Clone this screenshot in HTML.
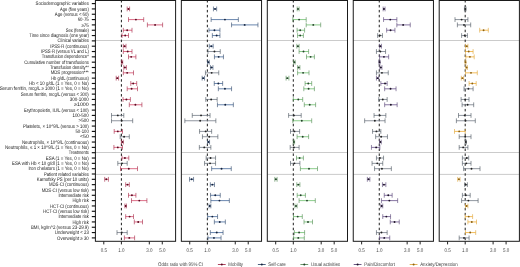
<!DOCTYPE html><html><head><meta charset="utf-8"><style>html,body{margin:0;padding:0;background:#fff;overflow:hidden}svg{display:block;will-change:transform}</style></head><body><svg width="520" height="267" viewBox="0 0 520 267">
<rect width="520" height="267" fill="#fff"/>
<defs><filter id="bl" x="-20%" y="-50%" width="140%" height="200%"><feGaussianBlur stdDeviation="0.28"/></filter></defs>
<g font-family="Liberation Sans, sans-serif" font-size="4.28" fill="#222" text-anchor="end" text-rendering="geometricPrecision" filter="url(#bl)">
<text transform="translate(0 5.20) scale(1 1.2)" x="88.8" y="0" textLength="53.2" lengthAdjust="spacingAndGlyphs">Sociodemographic variables</text>
<text transform="translate(0 10.53) scale(1 1.2)" x="88.8" y="0" textLength="28.8" lengthAdjust="spacingAndGlyphs">Age (five years)</text>
<text transform="translate(0 15.85) scale(1 1.2)" x="88.8" y="0" textLength="34.0" lengthAdjust="spacingAndGlyphs">Age (versus &lt; 60)</text>
<text transform="translate(0 21.18) scale(1 1.2)" x="88.8" y="0" textLength="11.1" lengthAdjust="spacingAndGlyphs">60-75</text>
<text transform="translate(0 26.50) scale(1 1.2)" x="88.8" y="0" textLength="7.4" lengthAdjust="spacingAndGlyphs">≥75</text>
<text transform="translate(0 31.83) scale(1 1.2)" x="88.8" y="0" textLength="23.0" lengthAdjust="spacingAndGlyphs">Sex (female)</text>
<text transform="translate(0 37.15) scale(1 1.2)" x="88.8" y="0" textLength="59.5" lengthAdjust="spacingAndGlyphs">Time since diagnosis (one year)</text>
<text transform="translate(0 42.48) scale(1 1.2)" x="88.8" y="0" textLength="31.2" lengthAdjust="spacingAndGlyphs">Clinical variables</text>
<text transform="translate(0 47.80) scale(1 1.2)" x="88.8" y="0" textLength="38.5" lengthAdjust="spacingAndGlyphs">IPSS-R (continuous)</text>
<text transform="translate(0 53.13) scale(1 1.2)" x="88.8" y="0" textLength="47.8" lengthAdjust="spacingAndGlyphs">IPSS-R (versus VL and L)</text>
<text transform="translate(0 58.45) scale(1 1.2)" x="88.8" y="0" textLength="47.1" lengthAdjust="spacingAndGlyphs">Transfusion dependence*</text>
<text transform="translate(0 63.78) scale(1 1.2)" x="88.8" y="0" textLength="64.5" lengthAdjust="spacingAndGlyphs">Cumulative number of transfusions</text>
<text transform="translate(0 69.10) scale(1 1.2)" x="88.8" y="0" textLength="38.8" lengthAdjust="spacingAndGlyphs">Transfusion density**</text>
<text transform="translate(0 74.42) scale(1 1.2)" x="88.8" y="0" textLength="38.1" lengthAdjust="spacingAndGlyphs">MDS progression***</text>
<text transform="translate(0 79.75) scale(1 1.2)" x="88.8" y="0" textLength="37.6" lengthAdjust="spacingAndGlyphs">Hb g/dL (continuous)</text>
<text transform="translate(0 85.07) scale(1 1.2)" x="88.8" y="0" textLength="59.7" lengthAdjust="spacingAndGlyphs">Hb &lt; 10 g/dL (1 = Yes, 0 = No)</text>
<text transform="translate(0 90.40) scale(1 1.2)" x="88.8" y="0" textLength="89.1" lengthAdjust="spacingAndGlyphs">Serum ferritin, mcg/L ≥ 1000 (1 = Yes, 0 = No)</text>
<text transform="translate(0 95.72) scale(1 1.2)" x="88.8" y="0" textLength="68.1" lengthAdjust="spacingAndGlyphs">Serum ferritin, mcg/L (versus &lt; 300)</text>
<text transform="translate(0 101.05) scale(1 1.2)" x="88.8" y="0" textLength="19.1" lengthAdjust="spacingAndGlyphs">300-1000</text>
<text transform="translate(0 106.37) scale(1 1.2)" x="88.8" y="0" textLength="14.8" lengthAdjust="spacingAndGlyphs">≥1000</text>
<text transform="translate(0 111.70) scale(1 1.2)" x="88.8" y="0" textLength="64.9" lengthAdjust="spacingAndGlyphs">Erythropoietin, IU/L (versus &lt; 100)</text>
<text transform="translate(0 117.02) scale(1 1.2)" x="88.8" y="0" textLength="16.4" lengthAdjust="spacingAndGlyphs">100-500</text>
<text transform="translate(0 122.35) scale(1 1.2)" x="88.8" y="0" textLength="10.3" lengthAdjust="spacingAndGlyphs">&gt;500</text>
<text transform="translate(0 127.67) scale(1 1.2)" x="88.8" y="0" textLength="65.8" lengthAdjust="spacingAndGlyphs">Platelets, × 10^9/L (versus &gt; 100)</text>
<text transform="translate(0 133.00) scale(1 1.2)" x="88.8" y="0" textLength="13.3" lengthAdjust="spacingAndGlyphs">50-100</text>
<text transform="translate(0 138.32) scale(1 1.2)" x="88.8" y="0" textLength="8.8" lengthAdjust="spacingAndGlyphs">&lt;50</text>
<text transform="translate(0 143.65) scale(1 1.2)" x="88.8" y="0" textLength="66.9" lengthAdjust="spacingAndGlyphs">Neutrophils, × 10^9/L (continuous)</text>
<text transform="translate(0 148.97) scale(1 1.2)" x="88.8" y="0" textLength="83.8" lengthAdjust="spacingAndGlyphs">Neutrophils, ≤ 1 × 10^9/L (1 = Yes, 0 = No)</text>
<text transform="translate(0 154.30) scale(1 1.2)" x="88.8" y="0" textLength="20.0" lengthAdjust="spacingAndGlyphs">Treatments</text>
<text transform="translate(0 159.62) scale(1 1.2)" x="88.8" y="0" textLength="43.0" lengthAdjust="spacingAndGlyphs">ESA (1 = Yes, 0 = No)</text>
<text transform="translate(0 164.95) scale(1 1.2)" x="88.8" y="0" textLength="76.8" lengthAdjust="spacingAndGlyphs">ESA with Hb &lt; 10 g/dl (1 = Yes, 0 = No)</text>
<text transform="translate(0 170.28) scale(1 1.2)" x="88.8" y="0" textLength="60.4" lengthAdjust="spacingAndGlyphs">Iron chelators (1 = Yes, 0 = No)</text>
<text transform="translate(0 175.60) scale(1 1.2)" x="88.8" y="0" textLength="44.8" lengthAdjust="spacingAndGlyphs">Patient related variables</text>
<text transform="translate(0 180.92) scale(1 1.2)" x="88.8" y="0" textLength="52.0" lengthAdjust="spacingAndGlyphs">Karnofsky PS (per 10 units)</text>
<text transform="translate(0 186.25) scale(1 1.2)" x="88.8" y="0" textLength="39.9" lengthAdjust="spacingAndGlyphs">MDS-CI (continuous)</text>
<text transform="translate(0 191.57) scale(1 1.2)" x="88.8" y="0" textLength="47.1" lengthAdjust="spacingAndGlyphs">MDS-CI (versus low risk)</text>
<text transform="translate(0 196.90) scale(1 1.2)" x="88.8" y="0" textLength="30.4" lengthAdjust="spacingAndGlyphs">Intermediate risk</text>
<text transform="translate(0 202.22) scale(1 1.2)" x="88.8" y="0" textLength="16.4" lengthAdjust="spacingAndGlyphs">High risk</text>
<text transform="translate(0 207.55) scale(1 1.2)" x="88.8" y="0" textLength="38.8" lengthAdjust="spacingAndGlyphs">HCT-CI (continuous)</text>
<text transform="translate(0 212.88) scale(1 1.2)" x="88.8" y="0" textLength="45.7" lengthAdjust="spacingAndGlyphs">HCT-CI (versus low risk)</text>
<text transform="translate(0 218.20) scale(1 1.2)" x="88.8" y="0" textLength="30.4" lengthAdjust="spacingAndGlyphs">Intermediate risk</text>
<text transform="translate(0 223.53) scale(1 1.2)" x="88.8" y="0" textLength="16.4" lengthAdjust="spacingAndGlyphs">High risk</text>
<text transform="translate(0 228.85) scale(1 1.2)" x="88.8" y="0" textLength="57.9" lengthAdjust="spacingAndGlyphs">BMI, kg/m^2 (versus 23-29.9)</text>
<text transform="translate(0 234.17) scale(1 1.2)" x="88.8" y="0" textLength="34.0" lengthAdjust="spacingAndGlyphs">Underweight &lt; 23</text>
<text transform="translate(0 239.50) scale(1 1.2)" x="88.8" y="0" textLength="31.7" lengthAdjust="spacingAndGlyphs">Overweight ≥ 30</text>
</g>
<line x1="95.40" x2="175.60" y1="40.50" y2="40.50" stroke="#c2c2c2" stroke-width="0.85"/>
<line x1="95.40" x2="175.60" y1="152.50" y2="152.50" stroke="#c2c2c2" stroke-width="0.85"/>
<line x1="95.40" x2="175.60" y1="174.40" y2="174.40" stroke="#c2c2c2" stroke-width="0.85"/>
<line x1="181.35" x2="261.55" y1="40.50" y2="40.50" stroke="#c2c2c2" stroke-width="0.85"/>
<line x1="181.35" x2="261.55" y1="152.50" y2="152.50" stroke="#c2c2c2" stroke-width="0.85"/>
<line x1="181.35" x2="261.55" y1="174.40" y2="174.40" stroke="#c2c2c2" stroke-width="0.85"/>
<line x1="267.30" x2="347.50" y1="40.50" y2="40.50" stroke="#c2c2c2" stroke-width="0.85"/>
<line x1="267.30" x2="347.50" y1="152.50" y2="152.50" stroke="#c2c2c2" stroke-width="0.85"/>
<line x1="267.30" x2="347.50" y1="174.40" y2="174.40" stroke="#c2c2c2" stroke-width="0.85"/>
<line x1="353.25" x2="433.45" y1="40.50" y2="40.50" stroke="#c2c2c2" stroke-width="0.85"/>
<line x1="353.25" x2="433.45" y1="152.50" y2="152.50" stroke="#c2c2c2" stroke-width="0.85"/>
<line x1="353.25" x2="433.45" y1="174.40" y2="174.40" stroke="#c2c2c2" stroke-width="0.85"/>
<line x1="439.20" x2="519.40" y1="40.50" y2="40.50" stroke="#c2c2c2" stroke-width="0.85"/>
<line x1="439.20" x2="519.40" y1="152.50" y2="152.50" stroke="#c2c2c2" stroke-width="0.85"/>
<line x1="439.20" x2="519.40" y1="174.40" y2="174.40" stroke="#c2c2c2" stroke-width="0.85"/>
<line x1="121.40" x2="121.40" y1="0.0" y2="241.3" stroke="#111" stroke-width="0.95" stroke-dasharray="2.5,2.45"/>
<rect x="95.40" y="0.5" width="80.2" height="240.80" fill="none" stroke="#1a1a1a" stroke-width="1.0"/>
<line x1="103.79" x2="103.79" y1="241.3" y2="244.4" stroke="#222" stroke-width="1.0"/>
<text transform="translate(103.79 251.90) scale(1 1.2)" x="0" y="0" font-family="Liberation Sans, sans-serif" font-size="4.5" fill="#444" text-anchor="middle" text-rendering="geometricPrecision" filter="url(#bl)" >0.5</text>
<line x1="121.40" x2="121.40" y1="241.3" y2="244.4" stroke="#222" stroke-width="1.0"/>
<text transform="translate(121.40 251.90) scale(1 1.2)" x="0" y="0" font-family="Liberation Sans, sans-serif" font-size="4.5" fill="#444" text-anchor="middle" text-rendering="geometricPrecision" filter="url(#bl)" >1.0</text>
<line x1="149.30" x2="149.30" y1="241.3" y2="244.4" stroke="#222" stroke-width="1.0"/>
<text transform="translate(149.30 251.90) scale(1 1.2)" x="0" y="0" font-family="Liberation Sans, sans-serif" font-size="4.5" fill="#444" text-anchor="middle" text-rendering="geometricPrecision" filter="url(#bl)" >3.0</text>
<line x1="162.28" x2="162.28" y1="241.3" y2="244.4" stroke="#222" stroke-width="1.0"/>
<text transform="translate(162.28 251.90) scale(1 1.2)" x="0" y="0" font-family="Liberation Sans, sans-serif" font-size="4.5" fill="#444" text-anchor="middle" text-rendering="geometricPrecision" filter="url(#bl)" >5.0</text>
<line x1="207.35" x2="207.35" y1="0.0" y2="241.3" stroke="#111" stroke-width="0.95" stroke-dasharray="2.5,2.45"/>
<rect x="181.35" y="0.5" width="80.2" height="240.80" fill="none" stroke="#1a1a1a" stroke-width="1.0"/>
<line x1="189.74" x2="189.74" y1="241.3" y2="244.4" stroke="#222" stroke-width="1.0"/>
<text transform="translate(189.74 251.90) scale(1 1.2)" x="0" y="0" font-family="Liberation Sans, sans-serif" font-size="4.5" fill="#444" text-anchor="middle" text-rendering="geometricPrecision" filter="url(#bl)" >0.5</text>
<line x1="207.35" x2="207.35" y1="241.3" y2="244.4" stroke="#222" stroke-width="1.0"/>
<text transform="translate(207.35 251.90) scale(1 1.2)" x="0" y="0" font-family="Liberation Sans, sans-serif" font-size="4.5" fill="#444" text-anchor="middle" text-rendering="geometricPrecision" filter="url(#bl)" >1.0</text>
<line x1="235.25" x2="235.25" y1="241.3" y2="244.4" stroke="#222" stroke-width="1.0"/>
<text transform="translate(235.25 251.90) scale(1 1.2)" x="0" y="0" font-family="Liberation Sans, sans-serif" font-size="4.5" fill="#444" text-anchor="middle" text-rendering="geometricPrecision" filter="url(#bl)" >3.0</text>
<line x1="248.23" x2="248.23" y1="241.3" y2="244.4" stroke="#222" stroke-width="1.0"/>
<text transform="translate(248.23 251.90) scale(1 1.2)" x="0" y="0" font-family="Liberation Sans, sans-serif" font-size="4.5" fill="#444" text-anchor="middle" text-rendering="geometricPrecision" filter="url(#bl)" >5.0</text>
<line x1="293.30" x2="293.30" y1="0.0" y2="241.3" stroke="#111" stroke-width="0.95" stroke-dasharray="2.5,2.45"/>
<rect x="267.30" y="0.5" width="80.2" height="240.80" fill="none" stroke="#1a1a1a" stroke-width="1.0"/>
<line x1="275.69" x2="275.69" y1="241.3" y2="244.4" stroke="#222" stroke-width="1.0"/>
<text transform="translate(275.69 251.90) scale(1 1.2)" x="0" y="0" font-family="Liberation Sans, sans-serif" font-size="4.5" fill="#444" text-anchor="middle" text-rendering="geometricPrecision" filter="url(#bl)" >0.5</text>
<line x1="293.30" x2="293.30" y1="241.3" y2="244.4" stroke="#222" stroke-width="1.0"/>
<text transform="translate(293.30 251.90) scale(1 1.2)" x="0" y="0" font-family="Liberation Sans, sans-serif" font-size="4.5" fill="#444" text-anchor="middle" text-rendering="geometricPrecision" filter="url(#bl)" >1.0</text>
<line x1="321.20" x2="321.20" y1="241.3" y2="244.4" stroke="#222" stroke-width="1.0"/>
<text transform="translate(321.20 251.90) scale(1 1.2)" x="0" y="0" font-family="Liberation Sans, sans-serif" font-size="4.5" fill="#444" text-anchor="middle" text-rendering="geometricPrecision" filter="url(#bl)" >3.0</text>
<line x1="334.18" x2="334.18" y1="241.3" y2="244.4" stroke="#222" stroke-width="1.0"/>
<text transform="translate(334.18 251.90) scale(1 1.2)" x="0" y="0" font-family="Liberation Sans, sans-serif" font-size="4.5" fill="#444" text-anchor="middle" text-rendering="geometricPrecision" filter="url(#bl)" >5.0</text>
<line x1="379.25" x2="379.25" y1="0.0" y2="241.3" stroke="#111" stroke-width="0.95" stroke-dasharray="2.5,2.45"/>
<rect x="353.25" y="0.5" width="80.2" height="240.80" fill="none" stroke="#1a1a1a" stroke-width="1.0"/>
<line x1="361.64" x2="361.64" y1="241.3" y2="244.4" stroke="#222" stroke-width="1.0"/>
<text transform="translate(361.64 251.90) scale(1 1.2)" x="0" y="0" font-family="Liberation Sans, sans-serif" font-size="4.5" fill="#444" text-anchor="middle" text-rendering="geometricPrecision" filter="url(#bl)" >0.5</text>
<line x1="379.25" x2="379.25" y1="241.3" y2="244.4" stroke="#222" stroke-width="1.0"/>
<text transform="translate(379.25 251.90) scale(1 1.2)" x="0" y="0" font-family="Liberation Sans, sans-serif" font-size="4.5" fill="#444" text-anchor="middle" text-rendering="geometricPrecision" filter="url(#bl)" >1.0</text>
<line x1="407.15" x2="407.15" y1="241.3" y2="244.4" stroke="#222" stroke-width="1.0"/>
<text transform="translate(407.15 251.90) scale(1 1.2)" x="0" y="0" font-family="Liberation Sans, sans-serif" font-size="4.5" fill="#444" text-anchor="middle" text-rendering="geometricPrecision" filter="url(#bl)" >3.0</text>
<line x1="420.13" x2="420.13" y1="241.3" y2="244.4" stroke="#222" stroke-width="1.0"/>
<text transform="translate(420.13 251.90) scale(1 1.2)" x="0" y="0" font-family="Liberation Sans, sans-serif" font-size="4.5" fill="#444" text-anchor="middle" text-rendering="geometricPrecision" filter="url(#bl)" >5.0</text>
<line x1="465.20" x2="465.20" y1="0.0" y2="241.3" stroke="#111" stroke-width="0.95" stroke-dasharray="2.5,2.45"/>
<rect x="439.20" y="0.5" width="80.2" height="240.80" fill="none" stroke="#1a1a1a" stroke-width="1.0"/>
<line x1="447.59" x2="447.59" y1="241.3" y2="244.4" stroke="#222" stroke-width="1.0"/>
<text transform="translate(447.59 251.90) scale(1 1.2)" x="0" y="0" font-family="Liberation Sans, sans-serif" font-size="4.5" fill="#444" text-anchor="middle" text-rendering="geometricPrecision" filter="url(#bl)" >0.5</text>
<line x1="465.20" x2="465.20" y1="241.3" y2="244.4" stroke="#222" stroke-width="1.0"/>
<text transform="translate(465.20 251.90) scale(1 1.2)" x="0" y="0" font-family="Liberation Sans, sans-serif" font-size="4.5" fill="#444" text-anchor="middle" text-rendering="geometricPrecision" filter="url(#bl)" >1.0</text>
<line x1="493.10" x2="493.10" y1="241.3" y2="244.4" stroke="#222" stroke-width="1.0"/>
<text transform="translate(493.10 251.90) scale(1 1.2)" x="0" y="0" font-family="Liberation Sans, sans-serif" font-size="4.5" fill="#444" text-anchor="middle" text-rendering="geometricPrecision" filter="url(#bl)" >3.0</text>
<line x1="506.08" x2="506.08" y1="241.3" y2="244.4" stroke="#222" stroke-width="1.0"/>
<text transform="translate(506.08 251.90) scale(1 1.2)" x="0" y="0" font-family="Liberation Sans, sans-serif" font-size="4.5" fill="#444" text-anchor="middle" text-rendering="geometricPrecision" filter="url(#bl)" >5.0</text>
<line x1="91.8" x2="95.4" y1="3.60" y2="3.60" stroke="#111" stroke-width="1.15"/>
<line x1="91.8" x2="95.4" y1="8.93" y2="8.93" stroke="#111" stroke-width="1.15"/>
<line x1="91.8" x2="95.4" y1="14.25" y2="14.25" stroke="#111" stroke-width="1.15"/>
<line x1="91.8" x2="95.4" y1="19.58" y2="19.58" stroke="#111" stroke-width="1.15"/>
<line x1="91.8" x2="95.4" y1="24.90" y2="24.90" stroke="#111" stroke-width="1.15"/>
<line x1="91.8" x2="95.4" y1="30.23" y2="30.23" stroke="#111" stroke-width="1.15"/>
<line x1="91.8" x2="95.4" y1="35.55" y2="35.55" stroke="#111" stroke-width="1.15"/>
<line x1="91.8" x2="95.4" y1="40.88" y2="40.88" stroke="#111" stroke-width="1.15"/>
<line x1="91.8" x2="95.4" y1="46.20" y2="46.20" stroke="#111" stroke-width="1.15"/>
<line x1="91.8" x2="95.4" y1="51.53" y2="51.53" stroke="#111" stroke-width="1.15"/>
<line x1="91.8" x2="95.4" y1="56.85" y2="56.85" stroke="#111" stroke-width="1.15"/>
<line x1="91.8" x2="95.4" y1="62.18" y2="62.18" stroke="#111" stroke-width="1.15"/>
<line x1="91.8" x2="95.4" y1="67.50" y2="67.50" stroke="#111" stroke-width="1.15"/>
<line x1="91.8" x2="95.4" y1="72.83" y2="72.83" stroke="#111" stroke-width="1.15"/>
<line x1="91.8" x2="95.4" y1="78.15" y2="78.15" stroke="#111" stroke-width="1.15"/>
<line x1="91.8" x2="95.4" y1="83.47" y2="83.47" stroke="#111" stroke-width="1.15"/>
<line x1="91.8" x2="95.4" y1="88.80" y2="88.80" stroke="#111" stroke-width="1.15"/>
<line x1="91.8" x2="95.4" y1="94.12" y2="94.12" stroke="#111" stroke-width="1.15"/>
<line x1="91.8" x2="95.4" y1="99.45" y2="99.45" stroke="#111" stroke-width="1.15"/>
<line x1="91.8" x2="95.4" y1="104.77" y2="104.77" stroke="#111" stroke-width="1.15"/>
<line x1="91.8" x2="95.4" y1="110.10" y2="110.10" stroke="#111" stroke-width="1.15"/>
<line x1="91.8" x2="95.4" y1="115.42" y2="115.42" stroke="#111" stroke-width="1.15"/>
<line x1="91.8" x2="95.4" y1="120.75" y2="120.75" stroke="#111" stroke-width="1.15"/>
<line x1="91.8" x2="95.4" y1="126.08" y2="126.08" stroke="#111" stroke-width="1.15"/>
<line x1="91.8" x2="95.4" y1="131.40" y2="131.40" stroke="#111" stroke-width="1.15"/>
<line x1="91.8" x2="95.4" y1="136.72" y2="136.72" stroke="#111" stroke-width="1.15"/>
<line x1="91.8" x2="95.4" y1="142.05" y2="142.05" stroke="#111" stroke-width="1.15"/>
<line x1="91.8" x2="95.4" y1="147.38" y2="147.38" stroke="#111" stroke-width="1.15"/>
<line x1="91.8" x2="95.4" y1="152.70" y2="152.70" stroke="#111" stroke-width="1.15"/>
<line x1="91.8" x2="95.4" y1="158.03" y2="158.03" stroke="#111" stroke-width="1.15"/>
<line x1="91.8" x2="95.4" y1="163.35" y2="163.35" stroke="#111" stroke-width="1.15"/>
<line x1="91.8" x2="95.4" y1="168.68" y2="168.68" stroke="#111" stroke-width="1.15"/>
<line x1="91.8" x2="95.4" y1="174.00" y2="174.00" stroke="#111" stroke-width="1.15"/>
<line x1="91.8" x2="95.4" y1="179.32" y2="179.32" stroke="#111" stroke-width="1.15"/>
<line x1="91.8" x2="95.4" y1="184.65" y2="184.65" stroke="#111" stroke-width="1.15"/>
<line x1="91.8" x2="95.4" y1="189.97" y2="189.97" stroke="#111" stroke-width="1.15"/>
<line x1="91.8" x2="95.4" y1="195.30" y2="195.30" stroke="#111" stroke-width="1.15"/>
<line x1="91.8" x2="95.4" y1="200.62" y2="200.62" stroke="#111" stroke-width="1.15"/>
<line x1="91.8" x2="95.4" y1="205.95" y2="205.95" stroke="#111" stroke-width="1.15"/>
<line x1="91.8" x2="95.4" y1="211.28" y2="211.28" stroke="#111" stroke-width="1.15"/>
<line x1="91.8" x2="95.4" y1="216.60" y2="216.60" stroke="#111" stroke-width="1.15"/>
<line x1="91.8" x2="95.4" y1="221.93" y2="221.93" stroke="#111" stroke-width="1.15"/>
<line x1="91.8" x2="95.4" y1="227.25" y2="227.25" stroke="#111" stroke-width="1.15"/>
<line x1="91.8" x2="95.4" y1="232.57" y2="232.57" stroke="#111" stroke-width="1.15"/>
<line x1="91.8" x2="95.4" y1="237.90" y2="237.90" stroke="#111" stroke-width="1.15"/>
<line x1="127.20" x2="129.60" y1="8.93" y2="8.93" stroke="#d44a6a" stroke-width="0.8"/>
<path d="M127.20 6.53V11.33M129.60 6.53V11.33" stroke="#a8304e" stroke-width="0.65" fill="none"/>
<circle cx="128.50" cy="8.93" r="0.95" fill="#5a0a20"/>
<line x1="128.50" x2="143.70" y1="19.58" y2="19.58" stroke="#d44a6a" stroke-width="0.8"/>
<path d="M128.50 17.18V21.98M143.70 17.18V21.98" stroke="#a8304e" stroke-width="0.65" fill="none"/>
<circle cx="135.90" cy="19.58" r="0.95" fill="#5a0a20"/>
<line x1="147.40" x2="162.60" y1="24.90" y2="24.90" stroke="#d44a6a" stroke-width="0.8"/>
<path d="M147.40 22.50V27.30M162.60 22.50V27.30" stroke="#a8304e" stroke-width="0.65" fill="none"/>
<circle cx="155.10" cy="24.90" r="0.95" fill="#5a0a20"/>
<line x1="123.30" x2="132.00" y1="30.23" y2="30.23" stroke="#d44a6a" stroke-width="0.8"/>
<path d="M123.30 27.83V32.62M132.00 27.83V32.62" stroke="#a8304e" stroke-width="0.65" fill="none"/>
<circle cx="127.20" cy="30.23" r="0.95" fill="#5a0a20"/>
<line x1="122.00" x2="128.50" y1="35.55" y2="35.55" stroke="#d44a6a" stroke-width="0.8"/>
<path d="M122.00 33.15V37.95M128.50 33.15V37.95" stroke="#a8304e" stroke-width="0.65" fill="none"/>
<circle cx="125.20" cy="35.55" r="0.95" fill="#5a0a20"/>
<line x1="123.30" x2="126.00" y1="46.20" y2="46.20" stroke="#d44a6a" stroke-width="0.8"/>
<path d="M123.30 43.80V48.60M126.00 43.80V48.60" stroke="#a8304e" stroke-width="0.65" fill="none"/>
<circle cx="124.60" cy="46.20" r="0.95" fill="#5a0a20"/>
<line x1="123.30" x2="132.00" y1="51.53" y2="51.53" stroke="#d44a6a" stroke-width="0.8"/>
<path d="M123.30 49.13V53.93M132.00 49.13V53.93" stroke="#a8304e" stroke-width="0.65" fill="none"/>
<circle cx="127.70" cy="51.53" r="0.95" fill="#5a0a20"/>
<line x1="128.50" x2="135.90" y1="56.85" y2="56.85" stroke="#d44a6a" stroke-width="0.8"/>
<path d="M128.50 54.45V59.25M135.90 54.45V59.25" stroke="#a8304e" stroke-width="0.65" fill="none"/>
<circle cx="131.20" cy="56.85" r="0.95" fill="#5a0a20"/>
<line x1="121.40" x2="122.70" y1="62.18" y2="62.18" stroke="#d44a6a" stroke-width="0.8"/>
<path d="M121.40 59.78V64.58M122.70 59.78V64.58" stroke="#a8304e" stroke-width="0.65" fill="none"/>
<circle cx="122.00" cy="62.18" r="0.95" fill="#5a0a20"/>
<line x1="123.80" x2="126.40" y1="67.50" y2="67.50" stroke="#d44a6a" stroke-width="0.8"/>
<path d="M123.80 65.10V69.90M126.40 65.10V69.90" stroke="#a8304e" stroke-width="0.65" fill="none"/>
<circle cx="124.90" cy="67.50" r="0.95" fill="#5a0a20"/>
<line x1="123.30" x2="133.50" y1="72.83" y2="72.83" stroke="#d44a6a" stroke-width="0.8"/>
<path d="M123.30 70.42V75.23M133.50 70.42V75.23" stroke="#a8304e" stroke-width="0.65" fill="none"/>
<circle cx="127.20" cy="72.83" r="0.95" fill="#5a0a20"/>
<line x1="116.20" x2="118.60" y1="78.15" y2="78.15" stroke="#d44a6a" stroke-width="0.8"/>
<path d="M116.20 75.75V80.55M118.60 75.75V80.55" stroke="#a8304e" stroke-width="0.65" fill="none"/>
<circle cx="117.30" cy="78.15" r="0.95" fill="#5a0a20"/>
<line x1="130.80" x2="136.70" y1="83.47" y2="83.47" stroke="#d44a6a" stroke-width="0.8"/>
<path d="M130.80 81.07V85.88M136.70 81.07V85.88" stroke="#a8304e" stroke-width="0.65" fill="none"/>
<circle cx="133.20" cy="83.47" r="0.95" fill="#5a0a20"/>
<line x1="127.20" x2="137.50" y1="88.80" y2="88.80" stroke="#d44a6a" stroke-width="0.8"/>
<path d="M127.20 86.40V91.20M137.50 86.40V91.20" stroke="#a8304e" stroke-width="0.65" fill="none"/>
<circle cx="131.60" cy="88.80" r="0.95" fill="#5a0a20"/>
<line x1="123.00" x2="130.40" y1="99.45" y2="99.45" stroke="#d44a6a" stroke-width="0.8"/>
<path d="M123.00 97.05V101.85M130.40 97.05V101.85" stroke="#a8304e" stroke-width="0.65" fill="none"/>
<circle cx="126.40" cy="99.45" r="0.95" fill="#5a0a20"/>
<line x1="129.30" x2="141.90" y1="104.77" y2="104.77" stroke="#d44a6a" stroke-width="0.8"/>
<path d="M129.30 102.37V107.17M141.90 102.37V107.17" stroke="#a8304e" stroke-width="0.65" fill="none"/>
<circle cx="135.40" cy="104.77" r="0.95" fill="#5a0a20"/>
<line x1="111.50" x2="123.80" y1="115.42" y2="115.42" stroke="#737b86" stroke-width="0.8"/>
<path d="M111.50 113.02V117.83M123.80 113.02V117.83" stroke="#545c66" stroke-width="0.65" fill="none"/>
<circle cx="117.80" cy="115.42" r="0.95" fill="#222"/>
<line x1="111.50" x2="132.70" y1="120.75" y2="120.75" stroke="#737b86" stroke-width="0.8"/>
<path d="M111.50 118.35V123.15M132.70 118.35V123.15" stroke="#545c66" stroke-width="0.65" fill="none"/>
<circle cx="121.70" cy="120.75" r="0.95" fill="#222"/>
<line x1="114.20" x2="122.50" y1="131.40" y2="131.40" stroke="#d44a6a" stroke-width="0.8"/>
<path d="M114.20 129.00V133.80M122.50 129.00V133.80" stroke="#a8304e" stroke-width="0.65" fill="none"/>
<circle cx="117.80" cy="131.40" r="0.95" fill="#5a0a20"/>
<line x1="120.20" x2="129.30" y1="136.72" y2="136.72" stroke="#737b86" stroke-width="0.8"/>
<path d="M120.20 134.32V139.12M129.30 134.32V139.12" stroke="#545c66" stroke-width="0.65" fill="none"/>
<circle cx="124.10" cy="136.72" r="0.95" fill="#222"/>
<line x1="121.40" x2="123.30" y1="142.05" y2="142.05" stroke="#d44a6a" stroke-width="0.8"/>
<path d="M121.40 139.65V144.45M123.30 139.65V144.45" stroke="#a8304e" stroke-width="0.65" fill="none"/>
<circle cx="122.50" cy="142.05" r="0.95" fill="#5a0a20"/>
<line x1="113.90" x2="122.50" y1="147.38" y2="147.38" stroke="#d44a6a" stroke-width="0.8"/>
<path d="M113.90 144.97V149.78M122.50 144.97V149.78" stroke="#a8304e" stroke-width="0.65" fill="none"/>
<circle cx="117.80" cy="147.38" r="0.95" fill="#5a0a20"/>
<line x1="122.00" x2="128.80" y1="158.03" y2="158.03" stroke="#d44a6a" stroke-width="0.8"/>
<path d="M122.00 155.62V160.43M128.80 155.62V160.43" stroke="#a8304e" stroke-width="0.65" fill="none"/>
<circle cx="124.90" cy="158.03" r="0.95" fill="#5a0a20"/>
<line x1="117.80" x2="127.20" y1="163.35" y2="163.35" stroke="#737b86" stroke-width="0.8"/>
<path d="M117.80 160.95V165.75M127.20 160.95V165.75" stroke="#545c66" stroke-width="0.65" fill="none"/>
<circle cx="122.00" cy="163.35" r="0.95" fill="#222"/>
<line x1="120.50" x2="137.50" y1="168.68" y2="168.68" stroke="#d44a6a" stroke-width="0.8"/>
<path d="M120.50 166.28V171.08M137.50 166.28V171.08" stroke="#a8304e" stroke-width="0.65" fill="none"/>
<circle cx="128.80" cy="168.68" r="0.95" fill="#5a0a20"/>
<line x1="104.70" x2="108.40" y1="179.32" y2="179.32" stroke="#d44a6a" stroke-width="0.8"/>
<path d="M104.70 176.92V181.72M108.40 176.92V181.72" stroke="#a8304e" stroke-width="0.65" fill="none"/>
<circle cx="106.30" cy="179.32" r="0.95" fill="#5a0a20"/>
<line x1="125.70" x2="129.30" y1="184.65" y2="184.65" stroke="#d44a6a" stroke-width="0.8"/>
<path d="M125.70 182.25V187.05M129.30 182.25V187.05" stroke="#a8304e" stroke-width="0.65" fill="none"/>
<circle cx="127.50" cy="184.65" r="0.95" fill="#5a0a20"/>
<line x1="128.50" x2="135.90" y1="195.30" y2="195.30" stroke="#d44a6a" stroke-width="0.8"/>
<path d="M128.50 192.90V197.70M135.90 192.90V197.70" stroke="#a8304e" stroke-width="0.65" fill="none"/>
<circle cx="131.90" cy="195.30" r="0.95" fill="#5a0a20"/>
<line x1="131.50" x2="146.90" y1="200.62" y2="200.62" stroke="#d44a6a" stroke-width="0.8"/>
<path d="M131.50 198.22V203.03M146.90 198.22V203.03" stroke="#a8304e" stroke-width="0.65" fill="none"/>
<circle cx="139.30" cy="200.62" r="0.95" fill="#5a0a20"/>
<line x1="124.90" x2="126.40" y1="205.95" y2="205.95" stroke="#d44a6a" stroke-width="0.8"/>
<path d="M124.90 203.55V208.35M126.40 203.55V208.35" stroke="#a8304e" stroke-width="0.65" fill="none"/>
<circle cx="125.70" cy="205.95" r="0.95" fill="#5a0a20"/>
<line x1="125.70" x2="133.50" y1="216.60" y2="216.60" stroke="#d44a6a" stroke-width="0.8"/>
<path d="M125.70 214.20V219.00M133.50 214.20V219.00" stroke="#a8304e" stroke-width="0.65" fill="none"/>
<circle cx="129.60" cy="216.60" r="0.95" fill="#5a0a20"/>
<line x1="134.30" x2="142.50" y1="221.93" y2="221.93" stroke="#d44a6a" stroke-width="0.8"/>
<path d="M134.30 219.53V224.33M142.50 219.53V224.33" stroke="#a8304e" stroke-width="0.65" fill="none"/>
<circle cx="138.20" cy="221.93" r="0.95" fill="#5a0a20"/>
<line x1="117.00" x2="127.20" y1="232.57" y2="232.57" stroke="#737b86" stroke-width="0.8"/>
<path d="M117.00 230.17V234.97M127.20 230.17V234.97" stroke="#545c66" stroke-width="0.65" fill="none"/>
<circle cx="121.70" cy="232.57" r="0.95" fill="#222"/>
<line x1="124.40" x2="134.60" y1="237.90" y2="237.90" stroke="#d44a6a" stroke-width="0.8"/>
<path d="M124.40 235.50V240.30M134.60 235.50V240.30" stroke="#a8304e" stroke-width="0.65" fill="none"/>
<circle cx="129.30" cy="237.90" r="0.95" fill="#5a0a20"/>
<line x1="213.45" x2="216.65" y1="8.93" y2="8.93" stroke="#44689a" stroke-width="0.8"/>
<path d="M213.45 6.53V11.33M216.65 6.53V11.33" stroke="#3a5070" stroke-width="0.65" fill="none"/>
<circle cx="215.05" cy="8.93" r="0.95" fill="#14223c"/>
<line x1="211.15" x2="238.35" y1="19.58" y2="19.58" stroke="#44689a" stroke-width="0.8"/>
<path d="M211.15 17.18V21.98M238.35 17.18V21.98" stroke="#3a5070" stroke-width="0.65" fill="none"/>
<circle cx="224.95" cy="19.58" r="0.95" fill="#14223c"/>
<line x1="231.55" x2="257.95" y1="24.90" y2="24.90" stroke="#44689a" stroke-width="0.8"/>
<path d="M231.55 22.50V27.30M257.95 22.50V27.30" stroke="#3a5070" stroke-width="0.65" fill="none"/>
<circle cx="244.65" cy="24.90" r="0.95" fill="#14223c"/>
<line x1="208.95" x2="219.95" y1="30.23" y2="30.23" stroke="#44689a" stroke-width="0.8"/>
<path d="M208.95 27.83V32.62M219.95 27.83V32.62" stroke="#3a5070" stroke-width="0.65" fill="none"/>
<circle cx="214.45" cy="30.23" r="0.95" fill="#14223c"/>
<line x1="212.35" x2="219.95" y1="35.55" y2="35.55" stroke="#44689a" stroke-width="0.8"/>
<path d="M212.35 33.15V37.95M219.95 33.15V37.95" stroke="#3a5070" stroke-width="0.65" fill="none"/>
<circle cx="216.65" cy="35.55" r="0.95" fill="#14223c"/>
<line x1="209.25" x2="213.15" y1="46.20" y2="46.20" stroke="#44689a" stroke-width="0.8"/>
<path d="M209.25 43.80V48.60M213.15 43.80V48.60" stroke="#3a5070" stroke-width="0.65" fill="none"/>
<circle cx="211.25" cy="46.20" r="0.95" fill="#14223c"/>
<line x1="207.95" x2="220.25" y1="51.53" y2="51.53" stroke="#737b86" stroke-width="0.8"/>
<path d="M207.95 49.13V53.93M220.25 49.13V53.93" stroke="#545c66" stroke-width="0.65" fill="none"/>
<circle cx="214.45" cy="51.53" r="0.95" fill="#222"/>
<line x1="214.45" x2="223.45" y1="56.85" y2="56.85" stroke="#44689a" stroke-width="0.8"/>
<path d="M214.45 54.45V59.25M223.45 54.45V59.25" stroke="#3a5070" stroke-width="0.65" fill="none"/>
<circle cx="218.65" cy="56.85" r="0.95" fill="#14223c"/>
<line x1="207.55" x2="209.25" y1="62.18" y2="62.18" stroke="#44689a" stroke-width="0.8"/>
<path d="M207.55 59.78V64.58M209.25 59.78V64.58" stroke="#3a5070" stroke-width="0.65" fill="none"/>
<circle cx="208.35" cy="62.18" r="0.95" fill="#14223c"/>
<line x1="210.45" x2="212.95" y1="67.50" y2="67.50" stroke="#44689a" stroke-width="0.8"/>
<path d="M210.45 65.10V69.90M212.95 65.10V69.90" stroke="#3a5070" stroke-width="0.65" fill="none"/>
<circle cx="211.55" cy="67.50" r="0.95" fill="#14223c"/>
<line x1="205.45" x2="218.75" y1="72.83" y2="72.83" stroke="#737b86" stroke-width="0.8"/>
<path d="M205.45 70.42V75.23M218.75 70.42V75.23" stroke="#545c66" stroke-width="0.65" fill="none"/>
<circle cx="211.65" cy="72.83" r="0.95" fill="#222"/>
<line x1="202.15" x2="204.55" y1="78.15" y2="78.15" stroke="#44689a" stroke-width="0.8"/>
<path d="M202.15 75.75V80.55M204.55 75.75V80.55" stroke="#3a5070" stroke-width="0.65" fill="none"/>
<circle cx="203.15" cy="78.15" r="0.95" fill="#14223c"/>
<line x1="214.25" x2="222.65" y1="83.47" y2="83.47" stroke="#44689a" stroke-width="0.8"/>
<path d="M214.25 81.07V85.88M222.65 81.07V85.88" stroke="#3a5070" stroke-width="0.65" fill="none"/>
<circle cx="218.35" cy="83.47" r="0.95" fill="#14223c"/>
<line x1="218.35" x2="231.55" y1="88.80" y2="88.80" stroke="#44689a" stroke-width="0.8"/>
<path d="M218.35 86.40V91.20M231.55 86.40V91.20" stroke="#3a5070" stroke-width="0.65" fill="none"/>
<circle cx="224.95" cy="88.80" r="0.95" fill="#14223c"/>
<line x1="205.75" x2="217.15" y1="99.45" y2="99.45" stroke="#737b86" stroke-width="0.8"/>
<path d="M205.75 97.05V101.85M217.15 97.05V101.85" stroke="#545c66" stroke-width="0.65" fill="none"/>
<circle cx="211.15" cy="99.45" r="0.95" fill="#222"/>
<line x1="217.45" x2="233.35" y1="104.77" y2="104.77" stroke="#44689a" stroke-width="0.8"/>
<path d="M217.45 102.37V107.17M233.35 102.37V107.17" stroke="#3a5070" stroke-width="0.65" fill="none"/>
<circle cx="225.25" cy="104.77" r="0.95" fill="#14223c"/>
<line x1="192.25" x2="210.05" y1="115.42" y2="115.42" stroke="#737b86" stroke-width="0.8"/>
<path d="M192.25 113.02V117.83M210.05 113.02V117.83" stroke="#545c66" stroke-width="0.65" fill="none"/>
<circle cx="201.05" cy="115.42" r="0.95" fill="#222"/>
<line x1="184.85" x2="215.85" y1="120.75" y2="120.75" stroke="#737b86" stroke-width="0.8"/>
<path d="M184.85 118.35V123.15M215.85 118.35V123.15" stroke="#545c66" stroke-width="0.65" fill="none"/>
<circle cx="200.15" cy="120.75" r="0.95" fill="#222"/>
<line x1="199.55" x2="211.65" y1="131.40" y2="131.40" stroke="#737b86" stroke-width="0.8"/>
<path d="M199.55 129.00V133.80M211.65 129.00V133.80" stroke="#545c66" stroke-width="0.65" fill="none"/>
<circle cx="205.65" cy="131.40" r="0.95" fill="#222"/>
<line x1="202.45" x2="217.85" y1="136.72" y2="136.72" stroke="#737b86" stroke-width="0.8"/>
<path d="M202.45 134.32V139.12M217.85 134.32V139.12" stroke="#545c66" stroke-width="0.65" fill="none"/>
<circle cx="209.25" cy="136.72" r="0.95" fill="#222"/>
<line x1="207.65" x2="209.55" y1="142.05" y2="142.05" stroke="#44689a" stroke-width="0.8"/>
<path d="M207.65 139.65V144.45M209.55 139.65V144.45" stroke="#3a5070" stroke-width="0.65" fill="none"/>
<circle cx="208.45" cy="142.05" r="0.95" fill="#14223c"/>
<line x1="199.35" x2="210.85" y1="147.38" y2="147.38" stroke="#737b86" stroke-width="0.8"/>
<path d="M199.35 144.97V149.78M210.85 144.97V149.78" stroke="#545c66" stroke-width="0.65" fill="none"/>
<circle cx="204.25" cy="147.38" r="0.95" fill="#222"/>
<line x1="206.15" x2="215.55" y1="158.03" y2="158.03" stroke="#737b86" stroke-width="0.8"/>
<path d="M206.15 155.62V160.43M215.55 155.62V160.43" stroke="#545c66" stroke-width="0.65" fill="none"/>
<circle cx="210.55" cy="158.03" r="0.95" fill="#222"/>
<line x1="204.55" x2="215.55" y1="163.35" y2="163.35" stroke="#737b86" stroke-width="0.8"/>
<path d="M204.55 160.95V165.75M215.55 160.95V165.75" stroke="#545c66" stroke-width="0.65" fill="none"/>
<circle cx="210.05" cy="163.35" r="0.95" fill="#222"/>
<line x1="211.65" x2="231.25" y1="168.68" y2="168.68" stroke="#44689a" stroke-width="0.8"/>
<path d="M211.65 166.28V171.08M231.25 166.28V171.08" stroke="#3a5070" stroke-width="0.65" fill="none"/>
<circle cx="221.55" cy="168.68" r="0.95" fill="#14223c"/>
<line x1="189.55" x2="193.55" y1="179.32" y2="179.32" stroke="#44689a" stroke-width="0.8"/>
<path d="M189.55 176.92V181.72M193.55 176.92V181.72" stroke="#3a5070" stroke-width="0.65" fill="none"/>
<circle cx="191.65" cy="179.32" r="0.95" fill="#14223c"/>
<line x1="210.35" x2="214.45" y1="184.65" y2="184.65" stroke="#44689a" stroke-width="0.8"/>
<path d="M210.35 182.25V187.05M214.45 182.25V187.05" stroke="#3a5070" stroke-width="0.65" fill="none"/>
<circle cx="212.35" cy="184.65" r="0.95" fill="#14223c"/>
<line x1="210.55" x2="220.25" y1="195.30" y2="195.30" stroke="#44689a" stroke-width="0.8"/>
<path d="M210.55 192.90V197.70M220.25 192.90V197.70" stroke="#3a5070" stroke-width="0.65" fill="none"/>
<circle cx="215.25" cy="195.30" r="0.95" fill="#14223c"/>
<line x1="210.85" x2="229.35" y1="200.62" y2="200.62" stroke="#44689a" stroke-width="0.8"/>
<path d="M210.85 198.22V203.03M229.35 198.22V203.03" stroke="#3a5070" stroke-width="0.65" fill="none"/>
<circle cx="219.45" cy="200.62" r="0.95" fill="#14223c"/>
<line x1="208.95" x2="210.85" y1="205.95" y2="205.95" stroke="#44689a" stroke-width="0.8"/>
<path d="M208.95 203.55V208.35M210.85 203.55V208.35" stroke="#3a5070" stroke-width="0.65" fill="none"/>
<circle cx="209.75" cy="205.95" r="0.95" fill="#14223c"/>
<line x1="207.65" x2="217.55" y1="216.60" y2="216.60" stroke="#44689a" stroke-width="0.8"/>
<path d="M207.65 214.20V219.00M217.55 214.20V219.00" stroke="#3a5070" stroke-width="0.65" fill="none"/>
<circle cx="212.35" cy="216.60" r="0.95" fill="#14223c"/>
<line x1="214.35" x2="225.35" y1="221.93" y2="221.93" stroke="#44689a" stroke-width="0.8"/>
<path d="M214.35 219.53V224.33M225.35 219.53V224.33" stroke="#3a5070" stroke-width="0.65" fill="none"/>
<circle cx="219.75" cy="221.93" r="0.95" fill="#14223c"/>
<line x1="210.35" x2="223.05" y1="232.57" y2="232.57" stroke="#44689a" stroke-width="0.8"/>
<path d="M210.35 230.17V234.97M223.05 230.17V234.97" stroke="#3a5070" stroke-width="0.65" fill="none"/>
<circle cx="216.75" cy="232.57" r="0.95" fill="#14223c"/>
<line x1="207.95" x2="221.05" y1="237.90" y2="237.90" stroke="#44689a" stroke-width="0.8"/>
<path d="M207.95 235.50V240.30M221.05 235.50V240.30" stroke="#3a5070" stroke-width="0.65" fill="none"/>
<circle cx="213.95" cy="237.90" r="0.95" fill="#14223c"/>
<line x1="297.20" x2="299.10" y1="8.93" y2="8.93" stroke="#6cbf6c" stroke-width="0.8"/>
<path d="M297.20 6.53V11.33M299.10 6.53V11.33" stroke="#5a8f5a" stroke-width="0.65" fill="none"/>
<circle cx="298.00" cy="8.93" r="0.95" fill="#24402a"/>
<line x1="292.80" x2="306.20" y1="19.58" y2="19.58" stroke="#6cbf6c" stroke-width="0.8"/>
<path d="M292.80 17.18V21.98M306.20 17.18V21.98" stroke="#5a8f5a" stroke-width="0.65" fill="none"/>
<circle cx="299.10" cy="19.58" r="0.95" fill="#24402a"/>
<line x1="306.20" x2="320.70" y1="24.90" y2="24.90" stroke="#6cbf6c" stroke-width="0.8"/>
<path d="M306.20 22.50V27.30M320.70 22.50V27.30" stroke="#5a8f5a" stroke-width="0.65" fill="none"/>
<circle cx="313.30" cy="24.90" r="0.95" fill="#24402a"/>
<line x1="297.10" x2="304.60" y1="30.23" y2="30.23" stroke="#6cbf6c" stroke-width="0.8"/>
<path d="M297.10 27.83V32.62M304.60 27.83V32.62" stroke="#5a8f5a" stroke-width="0.65" fill="none"/>
<circle cx="300.20" cy="30.23" r="0.95" fill="#24402a"/>
<line x1="297.60" x2="303.40" y1="35.55" y2="35.55" stroke="#6cbf6c" stroke-width="0.8"/>
<path d="M297.60 33.15V37.95M303.40 33.15V37.95" stroke="#5a8f5a" stroke-width="0.65" fill="none"/>
<circle cx="300.20" cy="35.55" r="0.95" fill="#24402a"/>
<line x1="296.80" x2="299.10" y1="46.20" y2="46.20" stroke="#6cbf6c" stroke-width="0.8"/>
<path d="M296.80 43.80V48.60M299.10 43.80V48.60" stroke="#5a8f5a" stroke-width="0.65" fill="none"/>
<circle cx="297.90" cy="46.20" r="0.95" fill="#24402a"/>
<line x1="299.10" x2="308.60" y1="51.53" y2="51.53" stroke="#6cbf6c" stroke-width="0.8"/>
<path d="M299.10 49.13V53.93M308.60 49.13V53.93" stroke="#5a8f5a" stroke-width="0.65" fill="none"/>
<circle cx="303.50" cy="51.53" r="0.95" fill="#24402a"/>
<line x1="306.50" x2="314.40" y1="56.85" y2="56.85" stroke="#6cbf6c" stroke-width="0.8"/>
<path d="M306.50 54.45V59.25M314.40 54.45V59.25" stroke="#5a8f5a" stroke-width="0.65" fill="none"/>
<circle cx="310.60" cy="56.85" r="0.95" fill="#24402a"/>
<line x1="293.60" x2="295.20" y1="62.18" y2="62.18" stroke="#6cbf6c" stroke-width="0.8"/>
<path d="M293.60 59.78V64.58M295.20 59.78V64.58" stroke="#5a8f5a" stroke-width="0.65" fill="none"/>
<circle cx="294.40" cy="62.18" r="0.95" fill="#24402a"/>
<line x1="297.60" x2="299.90" y1="67.50" y2="67.50" stroke="#6cbf6c" stroke-width="0.8"/>
<path d="M297.60 65.10V69.90M299.90 65.10V69.90" stroke="#5a8f5a" stroke-width="0.65" fill="none"/>
<circle cx="298.70" cy="67.50" r="0.95" fill="#24402a"/>
<line x1="297.60" x2="309.00" y1="72.83" y2="72.83" stroke="#6cbf6c" stroke-width="0.8"/>
<path d="M297.60 70.42V75.23M309.00 70.42V75.23" stroke="#5a8f5a" stroke-width="0.65" fill="none"/>
<circle cx="303.10" cy="72.83" r="0.95" fill="#24402a"/>
<line x1="286.10" x2="288.90" y1="78.15" y2="78.15" stroke="#6cbf6c" stroke-width="0.8"/>
<path d="M286.10 75.75V80.55M288.90 75.75V80.55" stroke="#5a8f5a" stroke-width="0.65" fill="none"/>
<circle cx="287.30" cy="78.15" r="0.95" fill="#24402a"/>
<line x1="305.10" x2="311.70" y1="83.47" y2="83.47" stroke="#6cbf6c" stroke-width="0.8"/>
<path d="M305.10 81.07V85.88M311.70 81.07V85.88" stroke="#5a8f5a" stroke-width="0.65" fill="none"/>
<circle cx="308.30" cy="83.47" r="0.95" fill="#24402a"/>
<line x1="303.80" x2="314.40" y1="88.80" y2="88.80" stroke="#6cbf6c" stroke-width="0.8"/>
<path d="M303.80 86.40V91.20M314.40 86.40V91.20" stroke="#5a8f5a" stroke-width="0.65" fill="none"/>
<circle cx="308.60" cy="88.80" r="0.95" fill="#24402a"/>
<line x1="293.30" x2="302.70" y1="99.45" y2="99.45" stroke="#6cbf6c" stroke-width="0.8"/>
<path d="M293.30 97.05V101.85M302.70 97.05V101.85" stroke="#5a8f5a" stroke-width="0.65" fill="none"/>
<circle cx="298.30" cy="99.45" r="0.95" fill="#24402a"/>
<line x1="304.30" x2="315.60" y1="104.77" y2="104.77" stroke="#6cbf6c" stroke-width="0.8"/>
<path d="M304.30 102.37V107.17M315.60 102.37V107.17" stroke="#5a8f5a" stroke-width="0.65" fill="none"/>
<circle cx="309.70" cy="104.77" r="0.95" fill="#24402a"/>
<line x1="288.60" x2="301.20" y1="115.42" y2="115.42" stroke="#737b86" stroke-width="0.8"/>
<path d="M288.60 113.02V117.83M301.20 113.02V117.83" stroke="#545c66" stroke-width="0.65" fill="none"/>
<circle cx="293.90" cy="115.42" r="0.95" fill="#222"/>
<line x1="292.80" x2="311.70" y1="120.75" y2="120.75" stroke="#6cbf6c" stroke-width="0.8"/>
<path d="M292.80 118.35V123.15M311.70 118.35V123.15" stroke="#5a8f5a" stroke-width="0.65" fill="none"/>
<circle cx="301.80" cy="120.75" r="0.95" fill="#24402a"/>
<line x1="290.50" x2="299.60" y1="131.40" y2="131.40" stroke="#737b86" stroke-width="0.8"/>
<path d="M290.50 129.00V133.80M299.60 129.00V133.80" stroke="#545c66" stroke-width="0.65" fill="none"/>
<circle cx="294.40" cy="131.40" r="0.95" fill="#222"/>
<line x1="297.10" x2="308.60" y1="136.72" y2="136.72" stroke="#6cbf6c" stroke-width="0.8"/>
<path d="M297.10 134.32V139.12M308.60 134.32V139.12" stroke="#5a8f5a" stroke-width="0.65" fill="none"/>
<circle cx="302.70" cy="136.72" r="0.95" fill="#24402a"/>
<line x1="293.30" x2="294.60" y1="142.05" y2="142.05" stroke="#6cbf6c" stroke-width="0.8"/>
<path d="M293.30 139.65V144.45M294.60 139.65V144.45" stroke="#5a8f5a" stroke-width="0.65" fill="none"/>
<circle cx="293.90" cy="142.05" r="0.95" fill="#24402a"/>
<line x1="290.20" x2="299.10" y1="147.38" y2="147.38" stroke="#737b86" stroke-width="0.8"/>
<path d="M290.20 144.97V149.78M299.10 144.97V149.78" stroke="#545c66" stroke-width="0.65" fill="none"/>
<circle cx="293.90" cy="147.38" r="0.95" fill="#222"/>
<line x1="296.50" x2="303.40" y1="158.03" y2="158.03" stroke="#6cbf6c" stroke-width="0.8"/>
<path d="M296.50 155.62V160.43M303.40 155.62V160.43" stroke="#5a8f5a" stroke-width="0.65" fill="none"/>
<circle cx="299.60" cy="158.03" r="0.95" fill="#24402a"/>
<line x1="290.50" x2="299.90" y1="163.35" y2="163.35" stroke="#737b86" stroke-width="0.8"/>
<path d="M290.50 160.95V165.75M299.90 160.95V165.75" stroke="#545c66" stroke-width="0.65" fill="none"/>
<circle cx="294.40" cy="163.35" r="0.95" fill="#222"/>
<line x1="300.40" x2="317.50" y1="168.68" y2="168.68" stroke="#6cbf6c" stroke-width="0.8"/>
<path d="M300.40 166.28V171.08M317.50 166.28V171.08" stroke="#5a8f5a" stroke-width="0.65" fill="none"/>
<circle cx="309.00" cy="168.68" r="0.95" fill="#24402a"/>
<line x1="274.80" x2="277.10" y1="179.32" y2="179.32" stroke="#6cbf6c" stroke-width="0.8"/>
<path d="M274.80 176.92V181.72M277.10 176.92V181.72" stroke="#5a8f5a" stroke-width="0.65" fill="none"/>
<circle cx="275.90" cy="179.32" r="0.95" fill="#24402a"/>
<line x1="296.80" x2="299.90" y1="184.65" y2="184.65" stroke="#6cbf6c" stroke-width="0.8"/>
<path d="M296.80 182.25V187.05M299.90 182.25V187.05" stroke="#5a8f5a" stroke-width="0.65" fill="none"/>
<circle cx="298.30" cy="184.65" r="0.95" fill="#24402a"/>
<line x1="297.20" x2="305.40" y1="195.30" y2="195.30" stroke="#6cbf6c" stroke-width="0.8"/>
<path d="M297.20 192.90V197.70M305.40 192.90V197.70" stroke="#5a8f5a" stroke-width="0.65" fill="none"/>
<circle cx="300.70" cy="195.30" r="0.95" fill="#24402a"/>
<line x1="299.10" x2="315.30" y1="200.62" y2="200.62" stroke="#6cbf6c" stroke-width="0.8"/>
<path d="M299.10 198.22V203.03M315.30 198.22V203.03" stroke="#5a8f5a" stroke-width="0.65" fill="none"/>
<circle cx="307.00" cy="200.62" r="0.95" fill="#24402a"/>
<line x1="294.90" x2="297.10" y1="205.95" y2="205.95" stroke="#6cbf6c" stroke-width="0.8"/>
<path d="M294.90 203.55V208.35M297.10 203.55V208.35" stroke="#5a8f5a" stroke-width="0.65" fill="none"/>
<circle cx="296.00" cy="205.95" r="0.95" fill="#24402a"/>
<line x1="293.50" x2="302.30" y1="216.60" y2="216.60" stroke="#6cbf6c" stroke-width="0.8"/>
<path d="M293.50 214.20V219.00M302.30 214.20V219.00" stroke="#5a8f5a" stroke-width="0.65" fill="none"/>
<circle cx="297.70" cy="216.60" r="0.95" fill="#24402a"/>
<line x1="304.00" x2="312.50" y1="221.93" y2="221.93" stroke="#6cbf6c" stroke-width="0.8"/>
<path d="M304.00 219.53V224.33M312.50 219.53V224.33" stroke="#5a8f5a" stroke-width="0.65" fill="none"/>
<circle cx="308.00" cy="221.93" r="0.95" fill="#24402a"/>
<line x1="294.40" x2="304.60" y1="232.57" y2="232.57" stroke="#6cbf6c" stroke-width="0.8"/>
<path d="M294.40 230.17V234.97M304.60 230.17V234.97" stroke="#5a8f5a" stroke-width="0.65" fill="none"/>
<circle cx="299.10" cy="232.57" r="0.95" fill="#24402a"/>
<line x1="293.60" x2="304.30" y1="237.90" y2="237.90" stroke="#6cbf6c" stroke-width="0.8"/>
<path d="M293.60 235.50V240.30M304.30 235.50V240.30" stroke="#5a8f5a" stroke-width="0.65" fill="none"/>
<circle cx="298.30" cy="237.90" r="0.95" fill="#24402a"/>
<line x1="383.15" x2="385.05" y1="8.93" y2="8.93" stroke="#68508a" stroke-width="0.8"/>
<path d="M383.15 6.53V11.33M385.05 6.53V11.33" stroke="#5c4a7a" stroke-width="0.65" fill="none"/>
<circle cx="383.95" cy="8.93" r="0.95" fill="#1c1226"/>
<line x1="383.55" x2="396.85" y1="19.58" y2="19.58" stroke="#68508a" stroke-width="0.8"/>
<path d="M383.55 17.18V21.98M396.85 17.18V21.98" stroke="#5c4a7a" stroke-width="0.65" fill="none"/>
<circle cx="390.25" cy="19.58" r="0.95" fill="#1c1226"/>
<line x1="396.85" x2="410.25" y1="24.90" y2="24.90" stroke="#68508a" stroke-width="0.8"/>
<path d="M396.85 22.50V27.30M410.25 22.50V27.30" stroke="#5c4a7a" stroke-width="0.65" fill="none"/>
<circle cx="403.15" cy="24.90" r="0.95" fill="#1c1226"/>
<line x1="386.65" x2="394.95" y1="30.23" y2="30.23" stroke="#68508a" stroke-width="0.8"/>
<path d="M386.65 27.83V32.62M394.95 27.83V32.62" stroke="#5c4a7a" stroke-width="0.65" fill="none"/>
<circle cx="390.55" cy="30.23" r="0.95" fill="#1c1226"/>
<line x1="377.65" x2="382.45" y1="35.55" y2="35.55" stroke="#737b86" stroke-width="0.8"/>
<path d="M377.65 33.15V37.95M382.45 33.15V37.95" stroke="#545c66" stroke-width="0.65" fill="none"/>
<circle cx="379.85" cy="35.55" r="0.95" fill="#222"/>
<line x1="379.55" x2="381.45" y1="46.20" y2="46.20" stroke="#68508a" stroke-width="0.8"/>
<path d="M379.55 43.80V48.60M381.45 43.80V48.60" stroke="#5c4a7a" stroke-width="0.65" fill="none"/>
<circle cx="380.35" cy="46.20" r="0.95" fill="#1c1226"/>
<line x1="376.45" x2="385.55" y1="51.53" y2="51.53" stroke="#737b86" stroke-width="0.8"/>
<path d="M376.45 49.13V53.93M385.55 49.13V53.93" stroke="#545c66" stroke-width="0.65" fill="none"/>
<circle cx="380.35" cy="51.53" r="0.95" fill="#222"/>
<line x1="379.55" x2="388.65" y1="56.85" y2="56.85" stroke="#68508a" stroke-width="0.8"/>
<path d="M379.55 54.45V59.25M388.65 54.45V59.25" stroke="#5c4a7a" stroke-width="0.65" fill="none"/>
<circle cx="383.95" cy="56.85" r="0.95" fill="#1c1226"/>
<line x1="378.95" x2="380.15" y1="62.18" y2="62.18" stroke="#68508a" stroke-width="0.8"/>
<path d="M378.95 59.78V64.58M380.15 59.78V64.58" stroke="#5c4a7a" stroke-width="0.65" fill="none"/>
<circle cx="379.55" cy="62.18" r="0.95" fill="#1c1226"/>
<line x1="379.85" x2="381.95" y1="67.50" y2="67.50" stroke="#68508a" stroke-width="0.8"/>
<path d="M379.85 65.10V69.90M381.95 65.10V69.90" stroke="#5c4a7a" stroke-width="0.65" fill="none"/>
<circle cx="380.85" cy="67.50" r="0.95" fill="#1c1226"/>
<line x1="376.45" x2="388.25" y1="72.83" y2="72.83" stroke="#737b86" stroke-width="0.8"/>
<path d="M376.45 70.42V75.23M388.25 70.42V75.23" stroke="#545c66" stroke-width="0.65" fill="none"/>
<circle cx="381.95" cy="72.83" r="0.95" fill="#222"/>
<line x1="376.45" x2="378.75" y1="78.15" y2="78.15" stroke="#68508a" stroke-width="0.8"/>
<path d="M376.45 75.75V80.55M378.75 75.75V80.55" stroke="#5c4a7a" stroke-width="0.65" fill="none"/>
<circle cx="377.65" cy="78.15" r="0.95" fill="#1c1226"/>
<line x1="380.85" x2="387.15" y1="83.47" y2="83.47" stroke="#68508a" stroke-width="0.8"/>
<path d="M380.85 81.07V85.88M387.15 81.07V85.88" stroke="#5c4a7a" stroke-width="0.65" fill="none"/>
<circle cx="385.05" cy="83.47" r="0.95" fill="#1c1226"/>
<line x1="384.65" x2="396.05" y1="88.80" y2="88.80" stroke="#68508a" stroke-width="0.8"/>
<path d="M384.65 86.40V91.20M396.05 86.40V91.20" stroke="#5c4a7a" stroke-width="0.65" fill="none"/>
<circle cx="390.55" cy="88.80" r="0.95" fill="#1c1226"/>
<line x1="378.75" x2="387.15" y1="99.45" y2="99.45" stroke="#737b86" stroke-width="0.8"/>
<path d="M378.75 97.05V101.85M387.15 97.05V101.85" stroke="#545c66" stroke-width="0.65" fill="none"/>
<circle cx="382.75" cy="99.45" r="0.95" fill="#222"/>
<line x1="384.65" x2="397.15" y1="104.77" y2="104.77" stroke="#68508a" stroke-width="0.8"/>
<path d="M384.65 102.37V107.17M397.15 102.37V107.17" stroke="#5c4a7a" stroke-width="0.65" fill="none"/>
<circle cx="390.85" cy="104.77" r="0.95" fill="#1c1226"/>
<line x1="374.05" x2="385.85" y1="115.42" y2="115.42" stroke="#737b86" stroke-width="0.8"/>
<path d="M374.05 113.02V117.83M385.85 113.02V117.83" stroke="#545c66" stroke-width="0.65" fill="none"/>
<circle cx="379.75" cy="115.42" r="0.95" fill="#222"/>
<line x1="364.65" x2="385.05" y1="120.75" y2="120.75" stroke="#737b86" stroke-width="0.8"/>
<path d="M364.65 118.35V123.15M385.05 118.35V123.15" stroke="#545c66" stroke-width="0.65" fill="none"/>
<circle cx="374.85" cy="120.75" r="0.95" fill="#222"/>
<line x1="372.55" x2="380.85" y1="131.40" y2="131.40" stroke="#737b86" stroke-width="0.8"/>
<path d="M372.55 129.00V133.80M380.85 129.00V133.80" stroke="#545c66" stroke-width="0.65" fill="none"/>
<circle cx="376.45" cy="131.40" r="0.95" fill="#222"/>
<line x1="375.65" x2="387.45" y1="136.72" y2="136.72" stroke="#737b86" stroke-width="0.8"/>
<path d="M375.65 134.32V139.12M387.45 134.32V139.12" stroke="#545c66" stroke-width="0.65" fill="none"/>
<circle cx="381.15" cy="136.72" r="0.95" fill="#222"/>
<line x1="379.55" x2="381.25" y1="142.05" y2="142.05" stroke="#68508a" stroke-width="0.8"/>
<path d="M379.55 139.65V144.45M381.25 139.65V144.45" stroke="#5c4a7a" stroke-width="0.65" fill="none"/>
<circle cx="380.35" cy="142.05" r="0.95" fill="#1c1226"/>
<line x1="371.45" x2="379.85" y1="147.38" y2="147.38" stroke="#68508a" stroke-width="0.8"/>
<path d="M371.45 144.97V149.78M379.85 144.97V149.78" stroke="#5c4a7a" stroke-width="0.65" fill="none"/>
<circle cx="376.15" cy="147.38" r="0.95" fill="#1c1226"/>
<line x1="376.45" x2="383.55" y1="158.03" y2="158.03" stroke="#737b86" stroke-width="0.8"/>
<path d="M376.45 155.62V160.43M383.55 155.62V160.43" stroke="#545c66" stroke-width="0.65" fill="none"/>
<circle cx="379.85" cy="158.03" r="0.95" fill="#222"/>
<line x1="372.05" x2="382.75" y1="163.35" y2="163.35" stroke="#737b86" stroke-width="0.8"/>
<path d="M372.05 160.95V165.75M382.75 160.95V165.75" stroke="#545c66" stroke-width="0.65" fill="none"/>
<circle cx="377.25" cy="163.35" r="0.95" fill="#222"/>
<line x1="374.55" x2="391.35" y1="168.68" y2="168.68" stroke="#737b86" stroke-width="0.8"/>
<path d="M374.55 166.28V171.08M391.35 166.28V171.08" stroke="#545c66" stroke-width="0.65" fill="none"/>
<circle cx="381.95" cy="168.68" r="0.95" fill="#222"/>
<line x1="367.35" x2="369.85" y1="179.32" y2="179.32" stroke="#68508a" stroke-width="0.8"/>
<path d="M367.35 176.92V181.72M369.85 176.92V181.72" stroke="#5c4a7a" stroke-width="0.65" fill="none"/>
<circle cx="368.55" cy="179.32" r="0.95" fill="#1c1226"/>
<line x1="382.45" x2="385.85" y1="184.65" y2="184.65" stroke="#68508a" stroke-width="0.8"/>
<path d="M382.45 182.25V187.05M385.85 182.25V187.05" stroke="#5c4a7a" stroke-width="0.65" fill="none"/>
<circle cx="383.95" cy="184.65" r="0.95" fill="#1c1226"/>
<line x1="384.25" x2="392.15" y1="195.30" y2="195.30" stroke="#68508a" stroke-width="0.8"/>
<path d="M384.25 192.90V197.70M392.15 192.90V197.70" stroke="#5c4a7a" stroke-width="0.65" fill="none"/>
<circle cx="388.25" cy="195.30" r="0.95" fill="#1c1226"/>
<line x1="381.45" x2="397.65" y1="200.62" y2="200.62" stroke="#68508a" stroke-width="0.8"/>
<path d="M381.45 198.22V203.03M397.65 198.22V203.03" stroke="#5c4a7a" stroke-width="0.65" fill="none"/>
<circle cx="389.35" cy="200.62" r="0.95" fill="#1c1226"/>
<line x1="380.85" x2="382.75" y1="205.95" y2="205.95" stroke="#68508a" stroke-width="0.8"/>
<path d="M380.85 203.55V208.35M382.75 203.55V208.35" stroke="#5c4a7a" stroke-width="0.65" fill="none"/>
<circle cx="381.65" cy="205.95" r="0.95" fill="#1c1226"/>
<line x1="382.75" x2="390.55" y1="216.60" y2="216.60" stroke="#68508a" stroke-width="0.8"/>
<path d="M382.75 214.20V219.00M390.55 214.20V219.00" stroke="#5c4a7a" stroke-width="0.65" fill="none"/>
<circle cx="386.35" cy="216.60" r="0.95" fill="#1c1226"/>
<line x1="390.25" x2="399.25" y1="221.93" y2="221.93" stroke="#68508a" stroke-width="0.8"/>
<path d="M390.25 219.53V224.33M399.25 219.53V224.33" stroke="#5c4a7a" stroke-width="0.65" fill="none"/>
<circle cx="394.55" cy="221.93" r="0.95" fill="#1c1226"/>
<line x1="376.45" x2="387.15" y1="232.57" y2="232.57" stroke="#737b86" stroke-width="0.8"/>
<path d="M376.45 230.17V234.97M387.15 230.17V234.97" stroke="#545c66" stroke-width="0.65" fill="none"/>
<circle cx="381.45" cy="232.57" r="0.95" fill="#222"/>
<line x1="379.55" x2="389.75" y1="237.90" y2="237.90" stroke="#68508a" stroke-width="0.8"/>
<path d="M379.55 235.50V240.30M389.75 235.50V240.30" stroke="#5c4a7a" stroke-width="0.65" fill="none"/>
<circle cx="384.25" cy="237.90" r="0.95" fill="#1c1226"/>
<line x1="464.45" x2="466.05" y1="8.93" y2="8.93" stroke="#737b86" stroke-width="0.8"/>
<path d="M464.45 6.53V11.33M466.05 6.53V11.33" stroke="#545c66" stroke-width="0.65" fill="none"/>
<circle cx="465.30" cy="8.93" r="0.95" fill="#222"/>
<line x1="455.00" x2="467.90" y1="19.58" y2="19.58" stroke="#737b86" stroke-width="0.8"/>
<path d="M455.00 17.18V21.98M467.90 17.18V21.98" stroke="#545c66" stroke-width="0.65" fill="none"/>
<circle cx="461.60" cy="19.58" r="0.95" fill="#222"/>
<line x1="457.40" x2="470.70" y1="24.90" y2="24.90" stroke="#737b86" stroke-width="0.8"/>
<path d="M457.40 22.50V27.30M470.70 22.50V27.30" stroke="#545c66" stroke-width="0.65" fill="none"/>
<circle cx="464.00" cy="24.90" r="0.95" fill="#222"/>
<line x1="479.70" x2="488.30" y1="30.23" y2="30.23" stroke="#f0ac34" stroke-width="0.8"/>
<path d="M479.70 27.83V32.62M488.30 27.83V32.62" stroke="#e0a840" stroke-width="0.65" fill="none"/>
<circle cx="483.60" cy="30.23" r="0.95" fill="#8a6010"/>
<line x1="461.60" x2="467.40" y1="35.55" y2="35.55" stroke="#737b86" stroke-width="0.8"/>
<path d="M461.60 33.15V37.95M467.40 33.15V37.95" stroke="#545c66" stroke-width="0.65" fill="none"/>
<circle cx="464.70" cy="35.55" r="0.95" fill="#222"/>
<line x1="465.50" x2="467.90" y1="46.20" y2="46.20" stroke="#f0ac34" stroke-width="0.8"/>
<path d="M465.50 43.80V48.60M467.90 43.80V48.60" stroke="#e0a840" stroke-width="0.65" fill="none"/>
<circle cx="466.80" cy="46.20" r="0.95" fill="#8a6010"/>
<line x1="465.50" x2="473.10" y1="51.53" y2="51.53" stroke="#f0ac34" stroke-width="0.8"/>
<path d="M465.50 49.13V53.93M473.10 49.13V53.93" stroke="#e0a840" stroke-width="0.65" fill="none"/>
<circle cx="468.70" cy="51.53" r="0.95" fill="#8a6010"/>
<line x1="465.80" x2="474.20" y1="56.85" y2="56.85" stroke="#f0ac34" stroke-width="0.8"/>
<path d="M465.80 54.45V59.25M474.20 54.45V59.25" stroke="#e0a840" stroke-width="0.65" fill="none"/>
<circle cx="469.90" cy="56.85" r="0.95" fill="#8a6010"/>
<line x1="465.00" x2="466.00" y1="62.18" y2="62.18" stroke="#f0ac34" stroke-width="0.8"/>
<path d="M465.00 59.78V64.58M466.00 59.78V64.58" stroke="#e0a840" stroke-width="0.65" fill="none"/>
<circle cx="465.50" cy="62.18" r="0.95" fill="#8a6010"/>
<line x1="465.80" x2="467.40" y1="67.50" y2="67.50" stroke="#f0ac34" stroke-width="0.8"/>
<path d="M465.80 65.10V69.90M467.40 65.10V69.90" stroke="#e0a840" stroke-width="0.65" fill="none"/>
<circle cx="466.60" cy="67.50" r="0.95" fill="#8a6010"/>
<line x1="465.50" x2="477.30" y1="72.83" y2="72.83" stroke="#f0ac34" stroke-width="0.8"/>
<path d="M465.50 70.42V75.23M477.30 70.42V75.23" stroke="#e0a840" stroke-width="0.65" fill="none"/>
<circle cx="471.00" cy="72.83" r="0.95" fill="#8a6010"/>
<line x1="461.30" x2="463.60" y1="78.15" y2="78.15" stroke="#f0ac34" stroke-width="0.8"/>
<path d="M461.30 75.75V80.55M463.60 75.75V80.55" stroke="#e0a840" stroke-width="0.65" fill="none"/>
<circle cx="462.40" cy="78.15" r="0.95" fill="#8a6010"/>
<line x1="469.10" x2="476.20" y1="83.47" y2="83.47" stroke="#f0ac34" stroke-width="0.8"/>
<path d="M469.10 81.07V85.88M476.20 81.07V85.88" stroke="#e0a840" stroke-width="0.65" fill="none"/>
<circle cx="472.30" cy="83.47" r="0.95" fill="#8a6010"/>
<line x1="464.00" x2="473.10" y1="88.80" y2="88.80" stroke="#737b86" stroke-width="0.8"/>
<path d="M464.00 86.40V91.20M473.10 86.40V91.20" stroke="#545c66" stroke-width="0.65" fill="none"/>
<circle cx="468.40" cy="88.80" r="0.95" fill="#222"/>
<line x1="461.10" x2="469.00" y1="99.45" y2="99.45" stroke="#737b86" stroke-width="0.8"/>
<path d="M461.10 97.05V101.85M469.00 97.05V101.85" stroke="#545c66" stroke-width="0.65" fill="none"/>
<circle cx="465.20" cy="99.45" r="0.95" fill="#222"/>
<line x1="462.10" x2="473.70" y1="104.77" y2="104.77" stroke="#737b86" stroke-width="0.8"/>
<path d="M462.10 102.37V107.17M473.70 102.37V107.17" stroke="#545c66" stroke-width="0.65" fill="none"/>
<circle cx="467.60" cy="104.77" r="0.95" fill="#222"/>
<line x1="458.50" x2="471.00" y1="115.42" y2="115.42" stroke="#737b86" stroke-width="0.8"/>
<path d="M458.50 113.02V117.83M471.00 113.02V117.83" stroke="#545c66" stroke-width="0.65" fill="none"/>
<circle cx="464.70" cy="115.42" r="0.95" fill="#222"/>
<line x1="456.40" x2="475.30" y1="120.75" y2="120.75" stroke="#737b86" stroke-width="0.8"/>
<path d="M456.40 118.35V123.15M475.30 118.35V123.15" stroke="#545c66" stroke-width="0.65" fill="none"/>
<circle cx="465.50" cy="120.75" r="0.95" fill="#222"/>
<line x1="454.50" x2="465.20" y1="131.40" y2="131.40" stroke="#f0ac34" stroke-width="0.8"/>
<path d="M454.50 129.00V133.80M465.20 129.00V133.80" stroke="#e0a840" stroke-width="0.65" fill="none"/>
<circle cx="459.20" cy="131.40" r="0.95" fill="#8a6010"/>
<line x1="459.20" x2="471.00" y1="136.72" y2="136.72" stroke="#737b86" stroke-width="0.8"/>
<path d="M459.20 134.32V139.12M471.00 134.32V139.12" stroke="#545c66" stroke-width="0.65" fill="none"/>
<circle cx="465.20" cy="136.72" r="0.95" fill="#222"/>
<line x1="465.20" x2="466.50" y1="142.05" y2="142.05" stroke="#737b86" stroke-width="0.8"/>
<path d="M465.20 139.65V144.45M466.50 139.65V144.45" stroke="#545c66" stroke-width="0.65" fill="none"/>
<circle cx="465.80" cy="142.05" r="0.95" fill="#222"/>
<line x1="459.20" x2="467.90" y1="147.38" y2="147.38" stroke="#737b86" stroke-width="0.8"/>
<path d="M459.20 144.97V149.78M467.90 144.97V149.78" stroke="#545c66" stroke-width="0.65" fill="none"/>
<circle cx="463.20" cy="147.38" r="0.95" fill="#222"/>
<line x1="462.40" x2="468.70" y1="158.03" y2="158.03" stroke="#737b86" stroke-width="0.8"/>
<path d="M462.40 155.62V160.43M468.70 155.62V160.43" stroke="#545c66" stroke-width="0.65" fill="none"/>
<circle cx="466.80" cy="158.03" r="0.95" fill="#222"/>
<line x1="462.40" x2="471.00" y1="163.35" y2="163.35" stroke="#737b86" stroke-width="0.8"/>
<path d="M462.40 160.95V165.75M471.00 160.95V165.75" stroke="#545c66" stroke-width="0.65" fill="none"/>
<circle cx="466.30" cy="163.35" r="0.95" fill="#222"/>
<line x1="463.60" x2="480.00" y1="168.68" y2="168.68" stroke="#737b86" stroke-width="0.8"/>
<path d="M463.60 166.28V171.08M480.00 166.28V171.08" stroke="#545c66" stroke-width="0.65" fill="none"/>
<circle cx="471.50" cy="168.68" r="0.95" fill="#222"/>
<line x1="457.70" x2="460.00" y1="179.32" y2="179.32" stroke="#f0ac34" stroke-width="0.8"/>
<path d="M457.70 176.92V181.72M460.00 176.92V181.72" stroke="#e0a840" stroke-width="0.65" fill="none"/>
<circle cx="458.90" cy="179.32" r="0.95" fill="#8a6010"/>
<line x1="464.70" x2="467.40" y1="184.65" y2="184.65" stroke="#737b86" stroke-width="0.8"/>
<path d="M464.70 182.25V187.05M467.40 182.25V187.05" stroke="#545c66" stroke-width="0.65" fill="none"/>
<circle cx="465.80" cy="184.65" r="0.95" fill="#222"/>
<line x1="462.40" x2="470.20" y1="195.30" y2="195.30" stroke="#737b86" stroke-width="0.8"/>
<path d="M462.40 192.90V197.70M470.20 192.90V197.70" stroke="#545c66" stroke-width="0.65" fill="none"/>
<circle cx="465.80" cy="195.30" r="0.95" fill="#222"/>
<line x1="461.60" x2="478.10" y1="200.62" y2="200.62" stroke="#737b86" stroke-width="0.8"/>
<path d="M461.60 198.22V203.03M478.10 198.22V203.03" stroke="#545c66" stroke-width="0.65" fill="none"/>
<circle cx="468.40" cy="200.62" r="0.95" fill="#222"/>
<line x1="465.50" x2="467.90" y1="205.95" y2="205.95" stroke="#f0ac34" stroke-width="0.8"/>
<path d="M465.50 203.55V208.35M467.90 203.55V208.35" stroke="#e0a840" stroke-width="0.65" fill="none"/>
<circle cx="466.60" cy="205.95" r="0.95" fill="#8a6010"/>
<line x1="465.20" x2="472.60" y1="216.60" y2="216.60" stroke="#f0ac34" stroke-width="0.8"/>
<path d="M465.20 214.20V219.00M472.60 214.20V219.00" stroke="#e0a840" stroke-width="0.65" fill="none"/>
<circle cx="468.70" cy="216.60" r="0.95" fill="#8a6010"/>
<line x1="467.90" x2="476.50" y1="221.93" y2="221.93" stroke="#f0ac34" stroke-width="0.8"/>
<path d="M467.90 219.53V224.33M476.50 219.53V224.33" stroke="#e0a840" stroke-width="0.65" fill="none"/>
<circle cx="471.80" cy="221.93" r="0.95" fill="#8a6010"/>
<line x1="465.50" x2="475.70" y1="232.57" y2="232.57" stroke="#f0ac34" stroke-width="0.8"/>
<path d="M465.50 230.17V234.97M475.70 230.17V234.97" stroke="#e0a840" stroke-width="0.65" fill="none"/>
<circle cx="470.20" cy="232.57" r="0.95" fill="#8a6010"/>
<line x1="459.20" x2="469.10" y1="237.90" y2="237.90" stroke="#737b86" stroke-width="0.8"/>
<path d="M459.20 235.50V240.30M469.10 235.50V240.30" stroke="#545c66" stroke-width="0.65" fill="none"/>
<circle cx="464.00" cy="237.90" r="0.95" fill="#222"/>
<text transform="translate(158.00 266.10) scale(1 1.2)" x="0" y="0" font-family="Liberation Sans, sans-serif" font-size="4.35" fill="#444" text-anchor="start" text-rendering="geometricPrecision" filter="url(#bl)" textLength="45" lengthAdjust="spacingAndGlyphs">Odds ratio with 95% CI</text>
<line x1="217.90" x2="225.70" y1="264.5" y2="264.5" stroke="#a8304e" stroke-width="0.9"/><circle cx="221.80" cy="264.5" r="1.0" fill="#5a0a20"/>
<text transform="translate(228.30 266.10) scale(1 1.2)" x="0" y="0" font-family="Liberation Sans, sans-serif" font-size="4.35" fill="#444" text-anchor="start" text-rendering="geometricPrecision" filter="url(#bl)" >Mobility</text>
<line x1="257.90" x2="265.70" y1="264.5" y2="264.5" stroke="#3a5070" stroke-width="0.9"/><circle cx="261.80" cy="264.5" r="1.0" fill="#14223c"/>
<text transform="translate(268.30 266.10) scale(1 1.2)" x="0" y="0" font-family="Liberation Sans, sans-serif" font-size="4.35" fill="#444" text-anchor="start" text-rendering="geometricPrecision" filter="url(#bl)" >Self-care</text>
<line x1="300.40" x2="308.20" y1="264.5" y2="264.5" stroke="#5a8f5a" stroke-width="0.9"/><circle cx="304.30" cy="264.5" r="1.0" fill="#24402a"/>
<text transform="translate(311.00 266.10) scale(1 1.2)" x="0" y="0" font-family="Liberation Sans, sans-serif" font-size="4.35" fill="#444" text-anchor="start" text-rendering="geometricPrecision" filter="url(#bl)" >Usual activities</text>
<line x1="353.70" x2="361.50" y1="264.5" y2="264.5" stroke="#5c4a7a" stroke-width="0.9"/><circle cx="357.60" cy="264.5" r="1.0" fill="#1c1226"/>
<text transform="translate(364.30 266.10) scale(1 1.2)" x="0" y="0" font-family="Liberation Sans, sans-serif" font-size="4.35" fill="#444" text-anchor="start" text-rendering="geometricPrecision" filter="url(#bl)" >Pain/Discomfort</text>
<line x1="409.70" x2="417.50" y1="264.5" y2="264.5" stroke="#e0a840" stroke-width="0.9"/><circle cx="413.60" cy="264.5" r="1.0" fill="#8a6010"/>
<text transform="translate(420.20 266.10) scale(1 1.2)" x="0" y="0" font-family="Liberation Sans, sans-serif" font-size="4.35" fill="#444" text-anchor="start" text-rendering="geometricPrecision" filter="url(#bl)" >Anxiety/Depression</text>
</svg></body></html>
